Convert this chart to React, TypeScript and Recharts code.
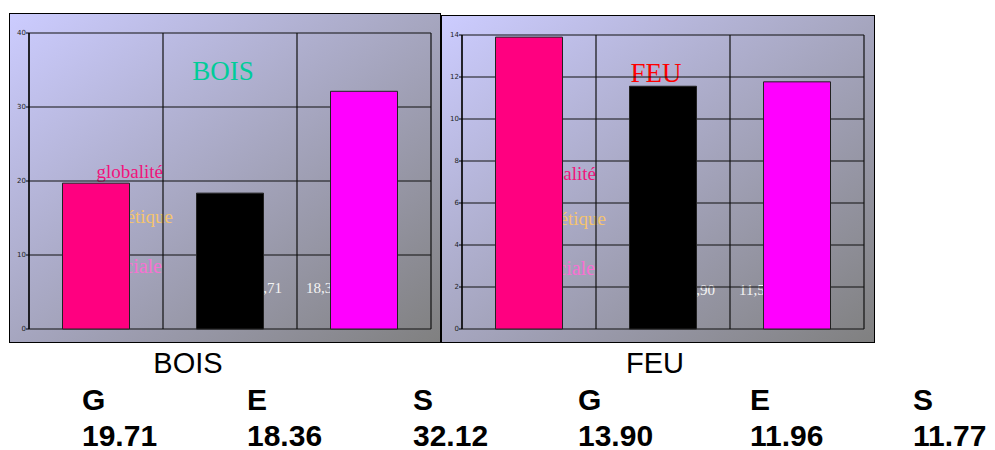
import React from 'react'
import { BarChart, Bar, XAxis, YAxis, CartesianGrid, Cell } from 'recharts'

// data
const categories = ['G', 'E', 'S']
const boisValues = [19.71, 18.36, 32.12]
const feuValues = [13.9, 11.56, 11.77]
const boisTicks = [0, 10, 20, 30, 40]
const feuTicks = [0, 2, 4, 6, 8, 10, 12, 14]
const panelTitles = ['BOIS', 'FEU']
const wordLabels = ['globalité', 'énergétique', 'sociale']
const tableLetters = ['G', 'E', 'S', 'G', 'E', 'S']
const tableValues = ['19.71', '18.36', '32.12', '13.90', '11.96', '11.77']

const barColors = ['#ff0080', '#000000', '#ff00ff']
const wordColors = ['#f0147c', '#f5c46c', '#f870d2']
const serif = '"Liberation Serif", "Times New Roman", serif'
const sans = '"Liberation Sans", Arial, sans-serif'

interface PanelProps {
  left: number
  top: number
  width: number
  height: number
  values: number[]
  ticks: number[]
  title: string
  titleColor: string
  axisWidth: number
  rightMargin: number
}

function Panel({ left, top, width, height, values, ticks, title, titleColor, axisWidth, rightMargin }: PanelProps) {
  const w = width - 2
  const h = height - 2
  const px = axisWidth
  const py = 19
  const data = categories.map((name, i) => ({ name, value: values[i] }))
  const fmt = (v: number) => v.toFixed(2).replace('.', ',')

  return (
    <div
      style={{
        position: 'absolute',
        left,
        top,
        width,
        height,
        boxSizing: 'border-box',
        border: '1px solid #000',
        background: 'linear-gradient(to bottom right, #ccccff, #808080)'
      }}
    >
      <svg width={w} height={h} style={{ position: 'absolute', left: 0, top: 0 }}>
        <text x={px + 194} y={py + 47} textAnchor="middle" fontFamily={serif} fontSize={27} fill={titleColor}>
          {title}
        </text>
        <text x={px + 134} y={py + 145} textAnchor="end" fontFamily={serif} fontSize={19} fill={wordColors[0]}>
          {wordLabels[0]}
        </text>
        <text x={px + 144} y={py + 190} textAnchor="end" fontFamily={serif} fontSize={19} fill={wordColors[1]}>
          {wordLabels[1]}
        </text>
        <text x={px + 133} y={py + 240} textAnchor="end" fontFamily={serif} fontSize={20} fill={wordColors[2]}>
          {wordLabels[2]}
        </text>
        <text x={px + 253} y={py + 260} textAnchor="end" fontFamily={serif} fontSize={15} fill="#f4f4f4">
          {fmt(values[0])}
        </text>
        <text x={px + 277} y={py + 260} textAnchor="start" fontFamily={serif} fontSize={15} fill="#f4f4f4">
          {fmt(values[1])}
        </text>
      </svg>
      <div style={{ position: 'absolute', left: 0, top: 0 }}>
        <BarChart
          width={w}
          height={h}
          data={data}
          margin={{ top: py, right: rightMargin, bottom: 13, left: 0 }}
          barCategoryGap="25%"
        >
          <CartesianGrid
            stroke="#111"
            strokeWidth={1.2}
            verticalCoordinatesGenerator={({ offset }: any) =>
              [0, 1, 2, 3].map(i => offset.left + (offset.width * i) / 3)
            }
          />
          <XAxis dataKey="name" hide />
          <YAxis
            width={axisWidth}
            domain={[0, ticks[ticks.length - 1]]}
            ticks={ticks}
            interval={0}
            tickSize={3}
            tickMargin={0}
            axisLine={{ stroke: '#000', strokeWidth: 1.2 }}
            tickLine={{ stroke: '#000' }}
            tick={{ fontSize: 7, fill: '#222', fontFamily: '"DejaVu Sans", sans-serif' }}
          />
          <Bar dataKey="value" stroke="#222" strokeWidth={1} isAnimationActive={false}>
            {data.map((d, i) => (
              <Cell key={d.name} fill={barColors[i]} />
            ))}
          </Bar>
        </BarChart>
      </div>
    </div>
  )
}

const columnX = [82, 247, 413, 578, 750, 913]

export default function App() {
  return (
    <div style={{ position: 'absolute', left: 0, top: 0, width: 995, height: 450, background: '#fff' }}>
      <Panel
        left={9}
        top={13}
        width={432}
        height={330}
        values={boisValues}
        ticks={boisTicks}
        title={panelTitles[0]}
        titleColor="#00cc99"
        axisWidth={19}
        rightMargin={9}
      />
      <Panel
        left={441}
        top={15}
        width={434}
        height={328}
        values={feuValues}
        ticks={feuTicks}
        title={panelTitles[1]}
        titleColor="#ff0000"
        axisWidth={20}
        rightMargin={10}
      />
      <svg width={995} height={450} style={{ position: 'absolute', left: 0, top: 0, pointerEvents: 'none' }}>
        <text x={188} y={373} textAnchor="middle" fontFamily={sans} fontSize={29} fill="#000">
          {panelTitles[0]}
        </text>
        <text x={655} y={373} textAnchor="middle" fontFamily={sans} fontSize={29} fill="#000">
          {panelTitles[1]}
        </text>
        {tableLetters.map((l, i) => (
          <text key={'l' + i} x={columnX[i]} y={410} fontFamily={sans} fontWeight="bold" fontSize={30} fill="#000">
            {l}
          </text>
        ))}
        {tableValues.map((v, i) => (
          <text key={'v' + i} x={columnX[i]} y={446} fontFamily={sans} fontWeight="bold" fontSize={30} fill="#000">
            {v}
          </text>
        ))}
      </svg>
    </div>
  )
}
